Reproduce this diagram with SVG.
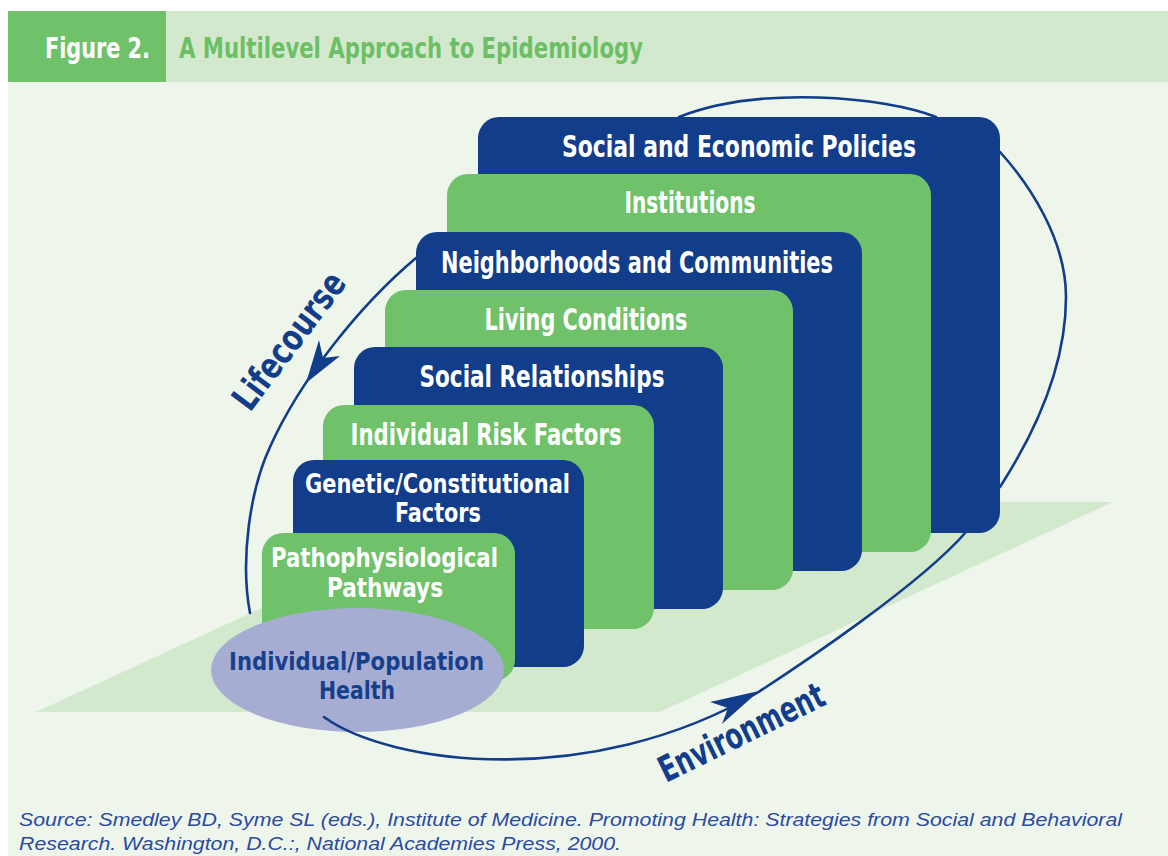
<svg xmlns="http://www.w3.org/2000/svg" width="1168" height="856" viewBox="0 0 1168 856">
<style>
.blue{fill:#123d8a}
.green{fill:#6fc26a}
.lbl{font-family:"Liberation Sans Narrow","DejaVu Sans Condensed","Liberation Sans",sans-serif;font-weight:bold;fill:#ffffff;text-anchor:middle;font-size:30.5px}
.lbl2{font-size:27px}
.lbl3{font-size:24.5px;fill:#163f8c}
.conn{fill:none;stroke:#123d8a;stroke-width:2.6;stroke-linecap:round}
.head{fill:#123d8a}
.side{font-family:"Liberation Sans Narrow","DejaVu Sans Condensed","Liberation Sans",sans-serif;font-weight:bold;fill:#123d8a;font-size:36px}
.hdr{font-family:"Liberation Sans Narrow","DejaVu Sans Condensed","Liberation Sans",sans-serif;font-weight:bold;font-size:28px}
.src{font-family:"Liberation Sans Narrow","Liberation Sans",sans-serif;font-style:italic;fill:#2b4aa0;font-size:19px}
</style>
<rect x="0" y="0" width="1168" height="856" fill="#ffffff"/>
<g id="header">
<rect x="8" y="11" width="1160" height="71" fill="#d3e9cd"/>
<rect x="8" y="11" width="158" height="71" fill="#6fc26a"/>
<text class="hdr" x="45" y="58" fill="#ffffff" textLength="105" lengthAdjust="spacingAndGlyphs">Figure 2.</text>
<text class="hdr" x="179" y="58" fill="#6cbf66" textLength="464" lengthAdjust="spacingAndGlyphs">A Multilevel Approach to Epidemiology</text>
</g>
<rect x="8" y="82" width="1160" height="774" fill="#eef6ec"/>
<polygon id="plane" points="36,712 660,712 1113,502 491,502" fill="#d3e9cd"/>
<g id="n1"><rect class="blue" x="478" y="117" width="522" height="416" rx="21"/><text class="lbl" x="739" y="157" textLength="354" lengthAdjust="spacingAndGlyphs">Social and Economic Policies</text></g>
<g id="n2"><rect class="green" x="447" y="174" width="484" height="378" rx="21"/><text class="lbl" x="690" y="213" textLength="131" lengthAdjust="spacingAndGlyphs">Institutions</text></g>
<g id="n3"><rect class="blue" x="416" y="232" width="446" height="339" rx="21"/><text class="lbl" x="637" y="273" textLength="392" lengthAdjust="spacingAndGlyphs">Neighborhoods and Communities</text></g>
<g id="n4"><rect class="green" x="385" y="290" width="408" height="300" rx="21"/><text class="lbl" x="586" y="330" textLength="203" lengthAdjust="spacingAndGlyphs">Living Conditions</text></g>
<g id="n5"><rect class="blue" x="354" y="347" width="369" height="262" rx="21"/><text class="lbl" x="542" y="387" textLength="245" lengthAdjust="spacingAndGlyphs">Social Relationships</text></g>
<g id="n6"><rect class="green" x="323" y="405" width="331" height="224" rx="21"/><text class="lbl" x="486" y="445" textLength="271" lengthAdjust="spacingAndGlyphs">Individual Risk Factors</text></g>
<g id="n7"><rect class="blue" x="293" y="460" width="291" height="207" rx="21"/><text class="lbl lbl2" x="437.5" y="493" textLength="265" lengthAdjust="spacingAndGlyphs">Genetic/Constitutional</text><text class="lbl lbl2" x="438" y="522" textLength="86" lengthAdjust="spacingAndGlyphs">Factors</text></g>
<g id="n8"><rect class="green" x="262" y="533" width="253" height="148" rx="21"/><text class="lbl lbl2" x="384.5" y="567" textLength="227" lengthAdjust="spacingAndGlyphs">Pathophysiological</text><text class="lbl lbl2" x="385" y="597" textLength="116" lengthAdjust="spacingAndGlyphs">Pathways</text></g>
<g id="n9"><ellipse cx="357.5" cy="670" rx="146.5" ry="62" fill="#a7acd2"/><text class="lbl lbl3" x="356.5" y="670" textLength="255" lengthAdjust="spacingAndGlyphs">Individual/Population</text><text class="lbl lbl3" x="357" y="699" textLength="76" lengthAdjust="spacingAndGlyphs">Health</text></g>
<g id="connectors">
<path class="conn" d="M324,717 C390,765 590,790 757,693 C800,665 920,585 966,532"/>
<path class="conn" d="M1000,487 C1040,425 1066,360 1066,297 C1066,240 1030,185 1000,152"/>
<path class="conn" d="M936,117 C885,97 760,85 679,117"/>
<path class="conn" d="M416,258 C360,305 300,380 270,447 C250,490 240,560 250,613"/>
<polygon class="head" points="759,691 710,702 728,708 722,724"/>
<polygon class="head" points="306,383 319,340 323,358 340,356"/>
</g>
<text class="side" transform="translate(250,413) rotate(-53)" textLength="162" lengthAdjust="spacingAndGlyphs">Lifecourse</text>
<text class="side" transform="translate(666,783) rotate(-26)" textLength="180" lengthAdjust="spacingAndGlyphs">Environment</text>
<g id="source">
<text class="src" x="19" y="826" textLength="1103" lengthAdjust="spacingAndGlyphs">Source: Smedley BD, Syme SL (eds.), Institute of Medicine. Promoting Health: Strategies from Social and Behavioral</text>
<text class="src" x="19" y="850" textLength="602" lengthAdjust="spacingAndGlyphs">Research. Washington, D.C.:, National Academies Press, 2000.</text>
</g>
</svg>
